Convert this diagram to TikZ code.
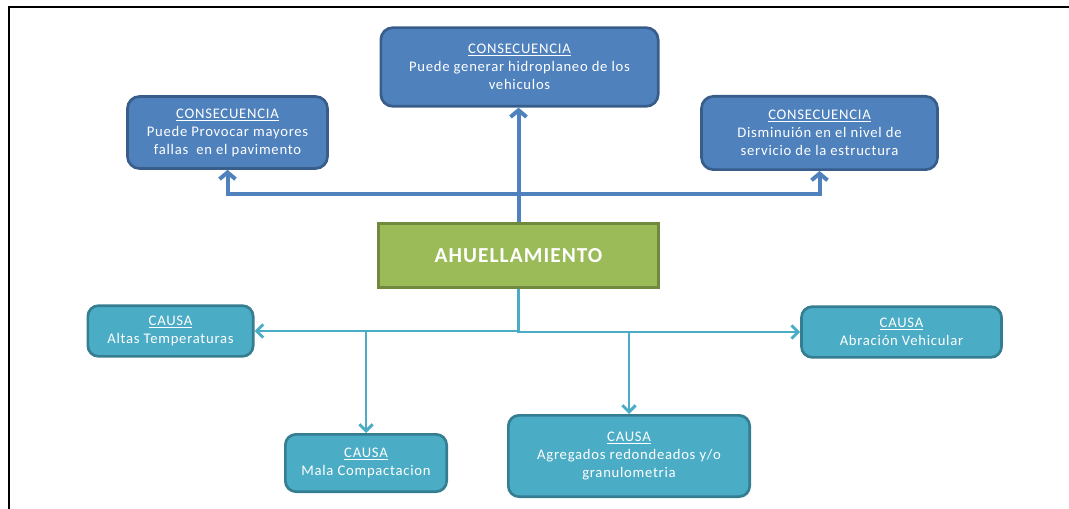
\documentclass[tikz,border=0pt]{standalone}
\usepackage{fontspec}
\setmainfont{Carlito}[LetterSpace=5]
\usetikzlibrary{arrows.meta,positioning}
\definecolor{consfill}{HTML}{4F81BD}
\definecolor{consline}{HTML}{385D8A}
\definecolor{causefill}{HTML}{4BACC6}
\definecolor{causeline}{HTML}{357D91}
\definecolor{rootfill}{HTML}{9BBB59}
\definecolor{rootline}{HTML}{71893F}
\tikzset{
  consbox/.style={draw=consline, fill=consfill, line width=2pt, rounded corners=9pt,
    text=white, align=center, inner sep=0pt, font=\fontsize{11}{13.5}\selectfont},
  causebox/.style={draw=causeline, fill=causefill, line width=2pt, rounded corners=8pt,
    text=white, align=center, inner sep=0pt, font=\fontsize{11}{13.5}\selectfont},
  rootbox/.style={draw=rootline, fill=rootfill, line width=2pt,
    text=white, align=center, inner sep=0pt, font=\fontsize{16}{18}\selectfont\bfseries},
  consarrow/.style={draw=consfill, line width=3pt, -{Straight Barb[length=5pt,width=12pt]}},
  causearrow/.style={draw=causefill, line width=2.2pt, -{Straight Barb[length=5pt,width=10pt]}}
}

\begin{document}
\begin{tikzpicture}[x=0.75pt, y=-0.75pt]
  \useasboundingbox (0,0) rectangle (1069,509);
  \draw[line width=1.5pt] (9,509) -- (9,7) -- (1069,7);

  \node[rootbox, minimum width=210pt, minimum height=48pt] (ahu) at (518.5,255.5) {AHUELLAMIENTO};

  \node[consbox, minimum width=150pt, minimum height=54pt] (cons1) at (227.5,132.5)
    {\underline{CONSECUENCIA}\\Puede Provocar mayores\\fallas~ en el pavimento};
  \node[consbox, minimum width=208pt, minimum height=59pt] (cons2) at (519.5,67)
    {\underline{CONSECUENCIA}\\Puede generar hidroplaneo de los\\vehiculos};
  \node[consbox, minimum width=177pt, minimum height=55pt] (cons3) at (819.5,133)
    {\underline{CONSECUENCIA}\\Disminuión en el nivel de\\servicio de la estructura};

  \node[causebox, minimum width=124pt, minimum height=38pt] (cause1) at (170.5,331)
    {\underline{CAUSA}\\Altas Temperaturas};
  \node[causebox, minimum width=150pt, minimum height=38pt] (cause2) at (901.5,332)
    {\underline{CAUSA}\\Abración Vehicular};
  \node[causebox, minimum width=121pt, minimum height=43pt] (cause3) at (366,463)
    {\underline{CAUSA}\\Mala Compactacion};
  \node[causebox, minimum width=181pt, minimum height=61pt] (cause4) at (629,456)
    {\underline{CAUSA}\\Agregados redondeados y/o\\granulometria};

  \coordinate (jtop) at (518.5,194);
  \draw[consarrow] (ahu.north) -- (ahu.north |- cons2.south);
  \draw[consarrow] (jtop) -| (cons1.south);
  \draw[consarrow] (jtop) -| (cons3.south);

  \draw[causearrow] (ahu.south) |- (cause1.east);
  \draw[causearrow] (ahu.south) |- (cause2.west);
  \draw[causearrow] (cause3.north |- cause1.east) -- (cause3.north);
  \draw[causearrow] (cause4.north |- cause2.west) -- (cause4.north);
\end{tikzpicture}
\end{document}
